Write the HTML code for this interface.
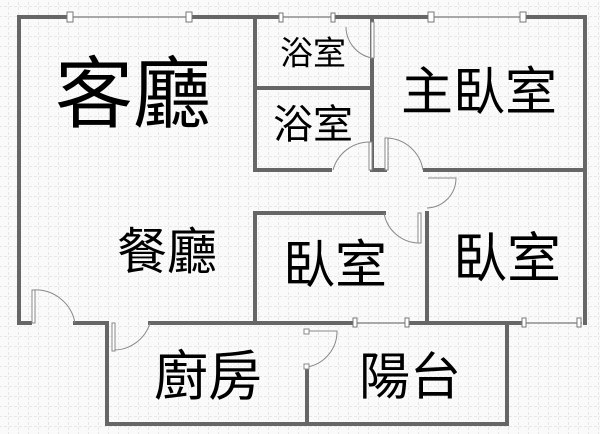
<!DOCTYPE html>
<html><head><meta charset="utf-8"><style>
html,body{margin:0;padding:0;background:#fff}
svg{display:block}
text{font-family:"Liberation Sans","Noto Sans CJK TC",sans-serif;fill:#000;text-anchor:middle;dominant-baseline:central}
</style></head><body>
<svg width="600" height="434" viewBox="0 0 600 434" xmlns="http://www.w3.org/2000/svg">
<defs>
<pattern id="g" width="10" height="10" patternUnits="userSpaceOnUse" x="-1" y="-3">
<path d="M10 0V10M0 10H10" stroke="#d4d4d4" stroke-width="1" stroke-dasharray="3,2" fill="none"/>
</pattern>
</defs>
<rect width="600" height="434" fill="#fafafa"/>
<rect width="600" height="434" fill="url(#g)"/>
<g stroke="#666" stroke-width="4" fill="none" stroke-linecap="square">
<path d="M19 17H70M190 17H280M333 17H430M523 17H585V323"/>
<path d="M19 17V323H30M75 323H105M150 323H353M410 323H520"/>
<path d="M255 17V170H330M372 17V170H385M425 170H585"/>
<path d="M255 88H372"/>
<path d="M255 323V213H384M427 213V323"/>
<path d="M107 323V424H507V323"/>
<path d="M307 368V424"/>
</g>
<g stroke="#777" stroke-width="1.2" fill="none">
<path d="M70 17H190M280 17H333M430 17H523M353 323H410M520 323H582"/>
</g>
<g fill="#fff" stroke="#777" stroke-width="1">
<rect x="67" y="12" width="6" height="10"/><rect x="186" y="12" width="6" height="10"/>
<rect x="279" y="13" width="4" height="9"/><rect x="331" y="13" width="4" height="9"/>
<rect x="428" y="12" width="6" height="10"/><rect x="520" y="12" width="6" height="10"/>
<rect x="353" y="318" width="4" height="9"/><rect x="405" y="318" width="4" height="9"/>
<rect x="522" y="318" width="4" height="9"/><rect x="577" y="318" width="4" height="9"/>
</g>
<g stroke="#888" stroke-width="1" fill="none">
<path d="M346 27 A32 32 0 0 0 372 58"/><rect x="371" y="22" width="3" height="36" fill="#fff"/>
<path d="M333 170 A38 38 0 0 1 370 142"/><rect x="369" y="142" width="3" height="28" fill="#fff"/>
<path d="M387 138 A38 38 0 0 1 423 170"/><rect x="385" y="138" width="3" height="32" fill="#fff"/>
<path d="M428 178 H456 A30 30 0 0 1 427 208"/>
<path d="M384 213 A36 36 0 0 0 418 243"/><rect x="418" y="213" width="3" height="30" fill="#fff"/>
<path d="M33 290 A40 40 0 0 1 75 323"/><rect x="32" y="290" width="3" height="33" fill="#fff"/>
<path d="M113 350 A38 38 0 0 0 150 323"/><rect x="112" y="323" width="3" height="28" fill="#fff"/>
<path d="M307 331 H337 A36 36 0 0 1 307 367"/><rect x="304" y="329" width="5" height="5" fill="#fff"/><rect x="304" y="364" width="5" height="5" fill="#fff"/>
</g>
<g font-weight="normal">
<text x="133" y="94" font-size="78">客廳</text>
<text x="313" y="53" font-size="33">浴室</text>
<text x="313" y="125" font-size="40">浴室</text>
<text x="479" y="93" font-size="52">主臥室</text>
<text x="167" y="252" font-size="50">餐廳</text>
<text x="335" y="266" font-size="52">臥室</text>
<text x="507" y="259" font-size="54">臥室</text>
<text x="208" y="377" font-size="54">廚房</text>
<text x="410" y="377" font-size="51">陽台</text>
</g>
</svg>
</body></html>
